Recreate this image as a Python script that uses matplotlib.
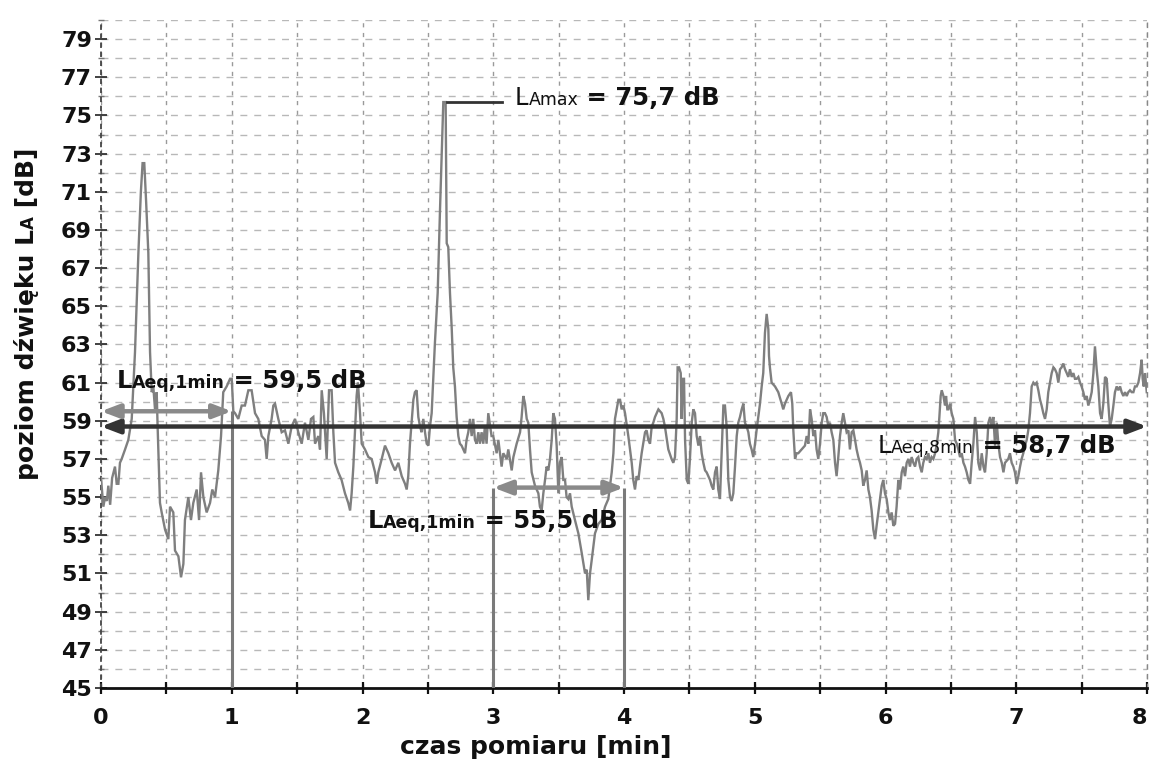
import numpy as np
import matplotlib
matplotlib.use("Agg")
import matplotlib.pyplot as plt
import matplotlib.transforms as mtransforms
from matplotlib.patches import FancyArrowPatch
from matplotlib.ticker import FixedLocator, MultipleLocator

# ---- measured sound level over the 8-minute record ----
time_min = [
    0.000, 0.018, 0.031, 0.045, 0.056, 0.070, 0.085, 0.107, 0.120, 0.133, 0.145, 0.158, 0.184, 0.209,
    0.235, 0.260, 0.286, 0.305, 0.318, 0.331, 0.345, 0.362, 0.375, 0.388, 0.400, 0.413, 0.426, 0.433,
    0.451, 0.464, 0.490, 0.515, 0.528, 0.553, 0.566, 0.592, 0.612, 0.630, 0.642, 0.668, 0.688, 0.706,
    0.732, 0.750, 0.765, 0.783, 0.808, 0.834, 0.851, 0.872, 0.897, 0.918, 0.935, 0.961, 0.987,
    1.000, 1.012, 1.025, 1.050, 1.076, 1.101, 1.127, 1.152, 1.178, 1.203, 1.229, 1.254, 1.267, 1.280,
    1.305, 1.318, 1.331, 1.356, 1.382, 1.407, 1.433, 1.458, 1.484, 1.509, 1.535, 1.560, 1.586, 1.606,
    1.624, 1.637, 1.662, 1.675, 1.688, 1.705, 1.726, 1.744, 1.764, 1.777, 1.790, 1.815, 1.840, 1.866,
    1.891, 1.905, 1.917, 1.930, 1.943, 1.955, 1.965, 1.981, 1.994,
    2.019, 2.045, 2.070, 2.096, 2.109, 2.121, 2.147, 2.172, 2.198, 2.223, 2.249, 2.274, 2.300, 2.325,
    2.338, 2.350, 2.363, 2.389, 2.401, 2.414, 2.427, 2.440, 2.452, 2.465, 2.478, 2.491, 2.504, 2.516,
    2.529, 2.542, 2.554, 2.575, 2.593, 2.605, 2.618, 2.636, 2.644, 2.656, 2.669, 2.682, 2.694, 2.707,
    2.720, 2.733, 2.745, 2.758, 2.784, 2.796, 2.809, 2.822, 2.835, 2.847, 2.860, 2.873, 2.886, 2.898,
    2.911, 2.924, 2.936, 2.949, 2.962, 2.987,
    3.000, 3.026, 3.039, 3.064, 3.077, 3.103, 3.115, 3.141, 3.154, 3.179, 3.205, 3.217, 3.230, 3.243,
    3.256, 3.268, 3.281, 3.294, 3.319, 3.345, 3.357, 3.370, 3.383, 3.396, 3.408, 3.421, 3.434, 3.447,
    3.459, 3.472, 3.485, 3.498, 3.510, 3.523, 3.536, 3.549, 3.561, 3.574, 3.587, 3.600, 3.625, 3.651,
    3.676, 3.702, 3.715, 3.727, 3.740, 3.753, 3.778, 3.804, 3.829, 3.855, 3.880, 3.893, 3.906, 3.919,
    3.931, 3.944, 3.957, 3.970, 3.982, 3.995,
    4.008, 4.033, 4.059, 4.071, 4.084, 4.097, 4.110, 4.122, 4.135, 4.161, 4.173, 4.186, 4.199, 4.212,
    4.224, 4.237, 4.263, 4.288, 4.301, 4.313, 4.339, 4.364, 4.377, 4.390, 4.403, 4.410, 4.421, 4.434,
    4.441, 4.449, 4.459, 4.467, 4.480, 4.492, 4.505, 4.518, 4.530, 4.543, 4.556, 4.569, 4.581, 4.594,
    4.607, 4.620, 4.632, 4.645, 4.658, 4.670, 4.683, 4.696, 4.709, 4.721, 4.734, 4.747, 4.760, 4.772,
    4.785, 4.798, 4.811, 4.823, 4.836, 4.849, 4.862, 4.874, 4.887, 4.900, 4.913,
    4.925, 4.938, 4.951, 4.963, 4.976, 4.989, 5.002, 5.014, 5.027, 5.040, 5.053, 5.065, 5.078, 5.091,
    5.104, 5.109, 5.116, 5.129, 5.155, 5.180, 5.206, 5.218, 5.231, 5.257, 5.277, 5.287, 5.295, 5.308,
    5.320, 5.333, 5.359, 5.384, 5.397, 5.410, 5.423, 5.435, 5.448, 5.461, 5.473, 5.486, 5.499, 5.512,
    5.524, 5.537, 5.550, 5.563, 5.575, 5.588, 5.601, 5.614, 5.626, 5.639, 5.652, 5.665, 5.677, 5.690,
    5.703, 5.716, 5.728, 5.741, 5.754, 5.767, 5.779, 5.792, 5.805, 5.818, 5.830, 5.843, 5.856, 5.869,
    5.881, 5.894, 5.907, 5.920,
    5.932, 5.945, 5.958, 5.971, 5.983, 5.996, 6.009, 6.022, 6.034, 6.047, 6.060, 6.073, 6.085, 6.098,
    6.111, 6.124, 6.136, 6.149, 6.162, 6.175, 6.187, 6.200, 6.213, 6.226, 6.238, 6.251, 6.264, 6.277,
    6.289, 6.302, 6.315, 6.328, 6.340, 6.353, 6.366, 6.379, 6.391, 6.404, 6.412, 6.422, 6.430, 6.443,
    6.455, 6.463, 6.473, 6.481, 6.494, 6.506, 6.519, 6.532, 6.545, 6.557, 6.570, 6.583, 6.596, 6.608,
    6.621, 6.634, 6.647, 6.659, 6.672, 6.685, 6.698, 6.710, 6.723, 6.736, 6.749, 6.761, 6.774, 6.787,
    6.800, 6.812, 6.825, 6.838, 6.851, 6.863, 6.876, 6.889, 6.902, 6.914,
    6.939, 6.952, 6.965, 6.978, 6.990, 7.003, 7.016, 7.029, 7.041, 7.054, 7.067, 7.080, 7.092, 7.105,
    7.118, 7.131, 7.143, 7.156, 7.169, 7.182, 7.194, 7.207, 7.220, 7.233, 7.245, 7.258, 7.271, 7.284,
    7.296, 7.309, 7.322, 7.335, 7.347, 7.360, 7.373, 7.386, 7.398, 7.411, 7.424, 7.437, 7.449, 7.462,
    7.475, 7.488, 7.500, 7.513, 7.526, 7.539, 7.551, 7.564, 7.577, 7.590, 7.602, 7.615, 7.628, 7.641,
    7.653, 7.666, 7.679, 7.692, 7.704, 7.717, 7.730, 7.743, 7.755, 7.768, 7.781, 7.794, 7.806, 7.819,
    7.832, 7.845, 7.857, 7.870, 7.883, 7.896, 7.908, 7.921, 7.934, 7.947, 7.959, 7.967, 7.975, 7.985,
    7.998,
]

level_db = [
    56.0, 54.5, 55.0, 54.8, 55.6, 54.6, 56.0, 56.6, 55.7, 55.7, 56.8, 57.0, 57.5, 58.0,
    59.1, 62.6, 67.8, 71.0, 72.5, 72.5, 70.5, 67.8, 62.6, 60.5, 60.8, 59.6, 60.5, 58.7,
    54.7, 54.2, 53.3, 52.8, 54.5, 54.2, 52.2, 51.9, 50.8, 51.5, 53.8, 55.0, 53.8, 54.7,
    55.4, 53.8, 56.3, 55.0, 54.2, 54.7, 55.4, 55.0, 56.4, 58.2, 60.5, 60.8, 61.2,
    61.2, 59.5, 59.4, 59.1, 59.8, 59.8, 60.6, 60.6, 59.4, 59.1, 58.2, 58.0, 57.0, 58.2,
    59.1, 59.8, 59.9, 59.1, 58.4, 58.5, 57.8, 58.7, 59.1, 58.4, 57.8, 58.9, 58.0, 59.1,
    59.2, 57.8, 58.2, 57.5, 60.6, 59.4, 57.0, 60.6, 60.6, 58.4, 56.8, 56.3, 55.9, 55.2,
    54.7, 54.3, 55.2, 56.6, 58.5, 60.3, 61.0, 59.4, 57.8,
    57.5, 57.1, 57.0, 56.3, 55.7, 56.3, 57.0, 57.7, 57.3, 56.8, 56.4, 56.8, 56.1, 55.7,
    55.4, 56.1, 57.8, 60.1, 60.5, 60.6, 59.2, 58.7, 58.4, 59.1, 58.4, 57.8, 57.7, 58.7,
    59.4, 61.3, 63.1, 65.7, 70.1, 72.7, 75.7, 75.7, 68.3, 68.1, 65.7, 63.9, 61.8, 60.8,
    59.2, 58.2, 57.8, 57.7, 57.3, 58.0, 58.4, 59.1, 58.2, 59.1, 58.0, 57.8, 58.4, 57.8,
    58.4, 57.8, 58.7, 57.8, 59.4, 58.2,
    58.2, 57.3, 58.0, 56.6, 57.3, 57.0, 57.5, 56.4, 57.1, 57.8, 58.4, 59.2, 60.3, 59.9,
    59.1, 58.9, 57.5, 56.3, 55.6, 55.2, 54.5, 54.3, 55.2, 55.9, 56.6, 56.4, 57.0, 58.0,
    59.4, 59.1, 57.7, 55.2, 56.8, 57.1, 55.9, 55.9, 55.0, 54.9, 55.2, 54.5, 53.8, 53.1,
    52.1, 51.0, 51.2, 49.6, 51.0, 51.7, 53.1, 53.6, 53.8, 54.5, 54.9, 55.6, 56.3, 57.3,
    59.1, 59.6, 60.1, 60.1, 59.6, 59.8,
    59.4, 58.2, 56.8, 55.9, 55.4, 56.1, 55.9, 56.6, 57.3, 58.4, 58.5, 58.0, 57.8, 58.7,
    58.9, 59.2, 59.6, 59.4, 59.1, 58.7, 57.5, 57.0, 56.8, 57.1, 59.1, 61.8, 61.8, 61.5,
    59.1, 61.2, 61.2, 58.0, 55.9, 55.7, 57.1, 58.9, 59.6, 59.4, 58.2, 57.7, 58.2, 57.3,
    56.8, 56.4, 56.3, 56.1, 55.9, 55.6, 55.4, 56.3, 56.6, 55.4, 54.9, 57.3, 59.8, 59.8,
    58.7, 55.9, 55.0, 54.8, 55.2, 56.6, 58.2, 58.9, 59.2, 59.6, 59.9,
    58.9, 58.7, 58.4, 57.8, 57.5, 57.1, 57.8, 58.5, 59.2, 59.9, 60.8, 61.5, 63.6, 64.6,
    63.8, 62.4, 61.8, 61.0, 60.8, 60.5, 59.9, 59.6, 59.9, 60.3, 60.5, 59.9, 58.5, 57.0,
    57.3, 57.3, 57.5, 57.7, 58.2, 57.8, 59.6, 59.1, 58.2, 58.5, 57.5, 57.0, 57.8, 58.9,
    59.4, 59.4, 59.2, 58.7, 58.9, 58.4, 58.0, 56.8, 56.1, 57.1, 58.2, 58.9, 59.4, 58.9,
    58.4, 58.5, 57.5, 58.4, 58.5, 58.0, 57.5, 57.1, 56.8, 56.4, 55.6, 55.9, 56.4, 55.4,
    55.0, 54.3, 53.3, 52.8,
    53.5, 54.2, 54.9, 55.6, 55.9, 55.2, 54.9, 54.2, 53.8, 54.2, 53.5, 53.6, 54.5, 55.9,
    55.4, 56.3, 56.6, 56.1, 56.8, 57.0, 56.6, 57.1, 56.8, 56.6, 57.0, 57.1, 56.6, 56.3,
    56.8, 57.1, 57.0, 57.3, 56.8, 57.1, 57.0, 57.3, 57.7, 58.4, 59.2, 60.3, 60.6, 60.3,
    59.8, 60.3, 59.6, 59.6, 59.9, 59.4, 59.1, 58.0, 57.8, 57.5, 57.1, 57.3, 56.8, 56.6,
    56.3, 55.9, 55.7, 56.8, 57.8, 59.2, 58.4, 56.8, 56.4, 57.3, 56.6, 56.3, 57.3, 58.9,
    59.2, 58.7, 59.2, 57.7, 58.9, 57.8, 57.1, 56.8, 56.3, 56.8,
    57.0, 57.3, 56.8, 56.6, 56.3, 55.7, 56.1, 56.6, 57.0, 57.3, 57.7, 58.0, 58.5, 59.4,
    60.8, 61.0, 60.9, 61.0, 60.6, 60.1, 59.8, 59.4, 59.1, 59.6, 60.5, 61.0, 61.5, 61.8,
    61.7, 61.5, 61.0, 61.7, 61.8, 62.0, 61.7, 61.5, 61.3, 61.7, 61.3, 61.5, 61.2, 61.2,
    61.3, 61.0, 60.8, 60.5, 60.1, 60.3, 59.8, 60.1, 60.5, 61.5, 62.9, 61.7, 60.8, 59.4,
    59.1, 59.9, 61.3, 61.2, 59.9, 58.7, 59.1, 59.8, 60.5, 60.8, 60.6, 60.8, 60.5, 60.3,
    60.5, 60.3, 60.5, 60.6, 60.5, 60.5, 60.8, 60.8, 61.0, 61.5, 62.2, 61.2, 60.8, 61.5,
    60.5,
]

# ---- summary levels ----
laeq_8min = 58.7
laeq_first_min = 59.5
laeq_fourth_min = 55.5
lamax = 75.7
first_window = (0.0, 1.0)
fourth_window = (3.0, 4.0)
t_lamax = 2.627

x_ticks = [0, 1, 2, 3, 4, 5, 6, 7, 8]
y_ticks = list(range(45, 80, 2))

plt.rcParams["font.family"] = ["DejaVu Sans"]
plt.rcParams["font.weight"] = "bold"

W, H = 1149, 762
fig = plt.figure(figsize=(W / 100, H / 100), dpi=100)
fig.patch.set_facecolor("white")
ax = fig.add_axes([101 / W, 1 - 688 / H, 1046 / W, 668 / H])
ax.set_xlim(0, 8)
ax.set_ylim(45, 80)

# grid: dashed every 1 dB and every half minute
ax.yaxis.set_major_locator(FixedLocator(y_ticks))
ax.yaxis.set_minor_locator(MultipleLocator(1))
ax.xaxis.set_major_locator(FixedLocator(x_ticks))
ax.xaxis.set_minor_locator(MultipleLocator(0.5))
ax.grid(which="both", axis="y", linestyle=(0, (5, 5)), color="#b8b8b8", lw=1.0, zorder=0)
ax.grid(which="both", axis="x", linestyle=(0, (3, 4)), color="#9a9a9a", lw=1.0, zorder=0)
ax.set_axisbelow(True)

ax.spines["top"].set_visible(False)
ax.spines["right"].set_linestyle((0, (3, 4)))
ax.spines["right"].set_color("#888888")
ax.spines["right"].set_linewidth(1.0)
ax.spines["left"].set_linestyle((0, (2, 3)))
ax.spines["left"].set_color("#444444")
ax.spines["left"].set_linewidth(1.3)
ax.spines["bottom"].set_color("#111111")
ax.spines["bottom"].set_linewidth(2.0)

ax.set_xticks(x_ticks)
ax.set_xticklabels([str(v) for v in x_ticks])
ax.set_yticks(y_ticks)
ax.set_yticklabels([str(v) for v in y_ticks])
ax.tick_params(axis="y", which="major", direction="inout", length=9, width=1.3,
               color="#333333", labelsize=16, pad=2, labelcolor="#111111")
ax.tick_params(axis="y", which="minor", direction="inout", length=4, width=1.0, color="#777777")
ax.tick_params(axis="x", which="both", direction="inout", length=9, width=1.6,
               color="#111111", labelsize=16, pad=10, labelcolor="#111111")
# keep the last time label inside the canvas
ax.get_xticklabels()[-1].set_horizontalalignment("right")

# level trace
ax.plot(time_min, level_db, color="#7f7f7f", lw=1.7, zorder=3, solid_joinstyle="miter")

# window borders for the one-minute averages
ax.vlines([first_window[1]], 45, laeq_first_min, color="#7a7a7a", lw=2.2, zorder=4)
ax.vlines(list(fourth_window), 45, laeq_fourth_min, color="#7a7a7a", lw=2.2, zorder=4)


def double_arrow(x0, x1, y, color, lw):
    arr = FancyArrowPatch((x0, y), (x1, y), arrowstyle="<|-|>,head_length=11,head_width=4.2",
                          mutation_scale=1, color=color, lw=lw, shrinkA=0, shrinkB=0,
                          zorder=5, clip_on=False)
    ax.add_patch(arr)


double_arrow(0, 8, laeq_8min, "#333333", 3.2)
double_arrow(first_window[0], first_window[1], laeq_first_min, "#8a8a8a", 3.2)
double_arrow(fourth_window[0], fourth_window[1], laeq_fourth_min, "#8a8a8a", 3.2)

# leader to the maximum
ax.plot([t_lamax + 0.02, 3.07], [lamax, lamax], color="#333333", lw=2.0, zorder=5)

renderer = fig.canvas.get_renderer()


def level_label(x, y, sub, value, weight_l="bold"):
    parts = [("L", 17.5, weight_l), (sub, 12.5, weight_l), (" = " + value, 17.5, "bold")]
    dx = 0.0
    for text, size, weight in parts:
        tr = mtransforms.offset_copy(ax.transData, fig=fig, x=dx, y=0, units="points")
        t = ax.text(x, y, text, fontsize=size, fontweight=weight, transform=tr,
                    ha="left", va="baseline", color="#111111", zorder=6)
        dx += t.get_window_extent(renderer).width * 72 / fig.dpi


fmt = lambda v: f"{v:.1f}".replace(".", ",") + " dB"
level_label(0.12, 60.73, "Aeq,1min", fmt(laeq_first_min))
level_label(2.04, 53.39, "Aeq,1min", fmt(laeq_fourth_min))
level_label(5.94, 57.32, "Aeq,8min", fmt(laeq_8min), weight_l="normal")
level_label(3.166, 75.57, "Amax", fmt(lamax), weight_l="normal")

# axis titles
fig.text(536 / W, 1 - 754 / H, "czas pomiaru [min]", fontsize=18, fontweight="bold",
         ha="center", va="baseline", color="#111111")

ylab_parts = [("poziom dźwięku L", 18), ("A", 12), (" [dB]", 18)]
dy = 0.0
for text, size in ylab_parts:
    tr = mtransforms.offset_copy(fig.transFigure, fig=fig, x=0, y=dy, units="points")
    t = fig.text(34 / W, 1 - 480 / H, text, fontsize=size, fontweight="bold", rotation=90,
                 rotation_mode="anchor", ha="left", va="baseline", transform=tr, color="#111111")
    dy += t.get_window_extent(renderer).height * 72 / fig.dpi

fig.savefig("out.png", dpi=100, facecolor="white")
